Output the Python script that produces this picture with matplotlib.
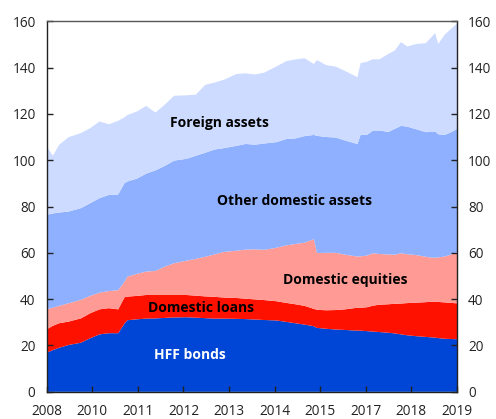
import matplotlib
matplotlib.use("Agg")
import matplotlib.pyplot as plt
import matplotlib.dates as mdates
import numpy as np
import pandas as pd

plt.rcParams['font.family'] = ['Open Sans', 'DejaVu Sans']

months = ["2008-01", "2008-03", "2008-05", "2008-08", "2008-12", "2009-03", "2009-06", "2009-09",
          "2009-12", "2010-02", "2010-03", "2010-06", "2010-09", "2010-12", "2011-03", "2011-06",
          "2011-10", "2012-01", "2012-04", "2012-07", "2012-10", "2013-02", "2013-05", "2013-08",
          "2013-11", "2014-03", "2014-06", "2014-09", "2014-12", "2015-03", "2015-04", "2015-07",
          "2015-10", "2016-01", "2016-05", "2016-06", "2016-08", "2016-10", "2016-12", "2017-03",
          "2017-05", "2017-07", "2017-09", "2017-12", "2018-03", "2018-05", "2018-06", "2018-07",
          "2018-09", "2018-11", "2019-01"]

hff_bonds = [16.9, 18.0, 19.0, 20.2, 21.2, 23.1, 24.8, 25.3, 25.3, 29.5, 30.9, 31.3, 31.6, 31.7,
             31.9, 32.1, 32.2, 32.0, 31.8, 31.6, 31.6, 31.5, 31.4, 31.2, 31.0, 30.8, 30.2, 29.6,
             29.0, 28.3, 27.6, 27.2, 26.9, 26.7, 26.4, 26.4, 26.2, 26.0, 25.8, 25.5, 25.2, 24.8,
             24.4, 24.0, 23.7, 23.5, 23.4, 23.2, 22.9, 22.8, 22.7]
domestic_loans = [10.1, 10.5, 10.6, 10.1, 10.5, 10.8, 10.8, 10.8, 10.3, 11.3, 10.2, 10.1, 10.2, 10.1,
                  9.9, 9.7, 9.6, 9.5, 9.4, 9.4, 9.1, 9.0, 8.8, 8.7, 8.6, 8.3, 8.2, 8.2,
                  8.1, 7.5, 7.8, 8.0, 8.4, 8.9, 9.9, 9.9, 10.3, 11.2, 11.8, 12.3, 12.8, 13.3,
                  13.9, 14.5, 15.0, 15.4, 15.5, 15.6, 15.7, 15.6, 15.5]
domestic_equities = [8.6, 7.8, 7.5, 7.9, 8.0, 7.5, 7.2, 7.4, 8.3, 6.7, 8.6, 9.5, 10.1, 10.4,
                     12.2, 13.7, 14.8, 15.9, 17.1, 18.3, 19.7, 20.4, 21.2, 21.6, 21.7, 23.1, 24.8, 26.0,
                     27.3, 30.1, 24.5, 24.8, 24.7, 23.6, 22.1, 22.2, 22.3, 22.6, 21.9, 21.5, 21.2, 21.7,
                     21.1, 20.5, 19.6, 19.0, 19.0, 19.2, 19.8, 20.8, 22.0]
other_domestic = [40.8, 40.7, 40.3, 39.6, 39.6, 40.0, 40.8, 41.5, 41.3, 42.6, 41.1, 41.1, 42.3, 43.4,
                  43.5, 44.3, 44.0, 44.5, 44.9, 45.3, 44.8, 45.3, 45.6, 45.2, 45.9, 45.6, 45.9, 45.6,
                  46.0, 45.0, 50.6, 50.0, 49.8, 49.3, 48.6, 52.4, 52.1, 53.0, 53.3, 52.9, 54.3, 55.0,
                  55.1, 54.3, 53.8, 54.3, 54.5, 53.2, 52.5, 52.8, 53.3]
foreign_assets = [29.5, 24.9, 29.2, 32.1, 32.4, 32.4, 33.1, 30.5, 31.8, 28.4, 28.7, 29.0, 29.2, 25.0,
                  26.4, 28.0, 27.4, 26.4, 29.3, 28.9, 29.5, 31.0, 30.5, 30.3, 30.6, 32.7, 33.6, 34.1,
                  33.6, 30.6, 32.7, 31.0, 30.6, 30.0, 28.8, 31.0, 31.6, 30.8, 30.7, 33.7, 33.8, 36.2,
                  34.6, 36.9, 38.4, 41.2, 42.5, 39.0, 43.2, 44.6, 45.5]

series_names = ["HFF bonds", "Domestic loans", "Domestic equities", "Other domestic assets", "Foreign assets"]
colors = ["#0046D6", "#FF1100", "#FF9A94", "#8FB0FF", "#CCDBFF"]
x_tick_labels = ["2008", "2010", "2011", "2012", "2013", "2014", "2015", "2017", "2018", "2019"]
y_ticks = [0, 20, 40, 60, 80, 100, 120, 140, 160]

dates = pd.to_datetime(months)
xnum = mdates.date2num(dates)

fig = plt.figure(figsize=(4.96, 4.19), dpi=100)
ax = fig.add_axes([0.0942, 0.0649, 0.8272, 0.8845])

ax.stackplot(xnum, hff_bonds, domestic_loans, domestic_equities, other_domestic, foreign_assets,
             colors=colors, linewidth=0)

ax.set_xlim(xnum[0], xnum[-1])
ax.set_ylim(0, 160)
ax.set_yticks(y_ticks)
ax.set_yticklabels([str(v) for v in y_ticks])
xt = np.linspace(xnum[0], xnum[-1], len(x_tick_labels))
ax.set_xticks(xt)
ax.set_xticklabels(x_tick_labels)

ax.tick_params(axis='both', direction='in', length=4, width=1, labelsize=9.8, colors='#222222',
               labelcolor='#222222')
ax.tick_params(axis='y', right=True, labelright=True, pad=8)
ax.tick_params(axis='x', pad=9)
for s in ax.spines.values():
    s.set_linewidth(1)
    s.set_color('#222222')
ax.spines['top'].set_color('#555555')

kw = dict(fontsize=10, fontweight='bold', ha='center', va='center')
ax.text(0.42, 0.725, "Foreign assets", transform=ax.transAxes, color='black', **kw)
ax.text(0.605, 0.515, "Other domestic assets", transform=ax.transAxes, color='black', **kw)
ax.text(0.727, 0.303, "Domestic equities", transform=ax.transAxes, color='black', **kw)
ax.text(0.375, 0.225, "Domestic loans", transform=ax.transAxes, color='black', **kw)
ax.text(0.35, 0.098, "HFF bonds", transform=ax.transAxes, color='white', **kw)

fig.savefig("out.png", dpi=100)
